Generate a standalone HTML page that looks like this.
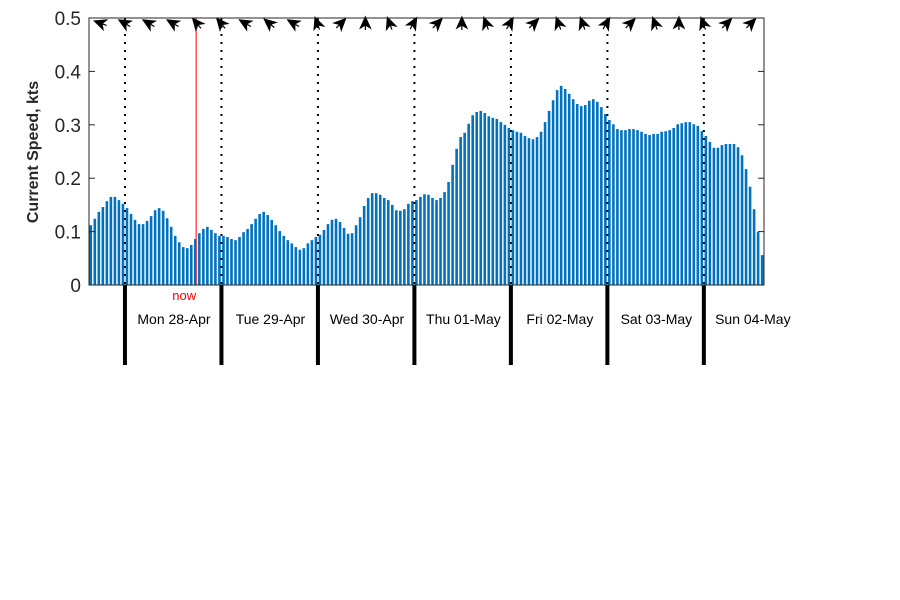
<!DOCTYPE html>
<html><head><meta charset="utf-8"><style>
body{margin:0;background:#fff;}
svg{display:block;font-family:"Liberation Sans","DejaVu Sans",sans-serif;}
</style></head><body>
<svg id="chart" width="900" height="600" viewBox="0 0 900 600" xmlns="http://www.w3.org/2000/svg">
<rect x="0" y="0" width="900" height="600" fill="#fff"/>
<g id="bars"></g>
<g id="grid"></g>
<g id="arrows"></g>
<g id="axes"></g>
<text transform="translate(38,152) rotate(-90)" text-anchor="middle" font-size="16" font-weight="bold" fill="#262626">Current Speed, kts</text>
</svg>
<script>
const speeds = [0.112,0.124,0.137,0.146,0.157,0.165,0.165,0.159,0.152,
0.144,0.133,0.122,0.114,0.114,0.120,0.129,0.140,0.144,0.139,0.125,0.109,0.092,0.080,0.071,0.069,0.075,0.086,0.097,0.105,0.109,0.103,0.097,0.092,
0.092,0.090,0.086,0.084,0.090,0.099,0.105,0.114,0.124,0.133,0.137,0.131,0.122,0.112,0.101,0.092,0.084,0.078,0.071,0.066,0.069,0.078,0.084,0.090,
0.094,0.103,0.114,0.122,0.124,0.118,0.107,0.096,0.097,0.112,0.127,0.148,0.163,0.172,0.172,0.169,0.163,0.159,0.150,0.140,0.139,0.142,0.152,0.157,
0.159,0.165,0.170,0.169,0.163,0.159,0.163,0.174,0.193,0.225,0.255,0.277,0.285,0.302,0.318,0.324,0.326,0.322,0.316,0.313,0.311,0.305,0.300,0.294,
0.290,0.287,0.285,0.279,0.275,0.273,0.277,0.287,0.305,0.326,0.346,0.365,0.373,0.367,0.358,0.348,0.339,0.335,0.337,0.345,0.348,0.343,0.333,0.320,
0.309,0.301,0.292,0.290,0.290,0.292,0.292,0.290,0.287,0.283,0.281,0.283,0.283,0.287,0.288,0.290,0.294,0.301,0.303,0.305,0.305,0.301,0.298,0.288,
0.279,0.268,0.257,0.257,0.262,0.264,0.264,0.264,0.258,0.243,0.217,0.184,0.142,0.099,0.056];
const arrowDirs = [290,300,300,300,320,320,300,310,300,340,45,0,340,30,45,0,340,30,45,340,340,30,45,340,0,340,45,45];
const dayLabels = ["Mon 28-Apr","Tue 29-Apr","Wed 30-Apr","Thu 01-May","Fri 02-May","Sat 03-May","Sun 04-May"];
const yTicks = [0,0.1,0.2,0.3,0.4,0.5];
const nowHour = 26.2;
const firstDayHour = 8.5;

const NS="http://www.w3.org/2000/svg";
const X0=89, X1=764, Y0=285, Y1=18, PX_HR=4.02, BAR0=90.8;
const xs = h => BAR0 + h*PX_HR;
const ys = v => Y0 - (v/0.5)*(Y0-Y1);
function mk(tag, attrs, parent){const e=document.createElementNS(NS,tag);for(const k in attrs)e.setAttribute(k,attrs[k]);parent.appendChild(e);return e;}
const bars=document.getElementById('bars'), grid=document.getElementById('grid'), arrows=document.getElementById('arrows'), axes=document.getElementById('axes');

speeds.forEach((v,i)=>{
  const r=mk('rect',{x:xs(i)-1.3,y:ys(v),width:2.6,height:Y0-ys(v),fill:'#0072BD'},bars);
  
  
});
dayLabels.forEach((d,k)=>{
  const x=xs(firstDayHour+24*k);
  const l=mk('line',{x1:x,y1:Y1,x2:x,y2:Y0,stroke:'#000','stroke-width':2,'stroke-dasharray':'2,6'},grid);
  
  
  const t=mk('line',{x1:x,y1:Y0,x2:x,y2:365,stroke:'#000','stroke-width':4},grid);
  
  
  const lab=mk('text',{x:x+49,y:324,'text-anchor':'middle','font-size':14,fill:'#000'},axes);
  lab.textContent=d;
  
  
});
const nx=xs(nowHour);
const nl=mk('line',{x1:nx,y1:Y1,x2:nx,y2:Y0,stroke:'#ff0000','stroke-width':1},grid);


const nt=mk('text',{x:nx,y:300,'text-anchor':'end','font-size':13,fill:'#ff0000'},axes);
nt.textContent='now';



arrowDirs.forEach((a,k)=>{
  const x=xs(2.3+6*k);
  const g=mk('path',{d:'M0,-6 L5,5 L0,2 L-5,5 Z M0,2 L0,7',fill:'#000',stroke:'#000','stroke-width':1.2,transform:`translate(${x},23) rotate(${a})`},arrows);
  
  
});

const box=mk('rect',{x:X0,y:Y1,width:X1-X0,height:Y0-Y1,fill:'none',stroke:'#262626','stroke-width':1},axes);


yTicks.forEach(v=>{
  const y=ys(v);
  mk('line',{x1:X0,y1:y,x2:X0+6,y2:y,stroke:'#262626'},axes);
  mk('line',{x1:X1,y1:y,x2:X1-6,y2:y,stroke:'#262626'},axes);
  const t=mk('text',{x:X0-8,y:y+7,'text-anchor':'end','font-size':19,fill:'#262626'},axes);
  t.textContent=String(v);
  
  
});
</script>
</body></html>
